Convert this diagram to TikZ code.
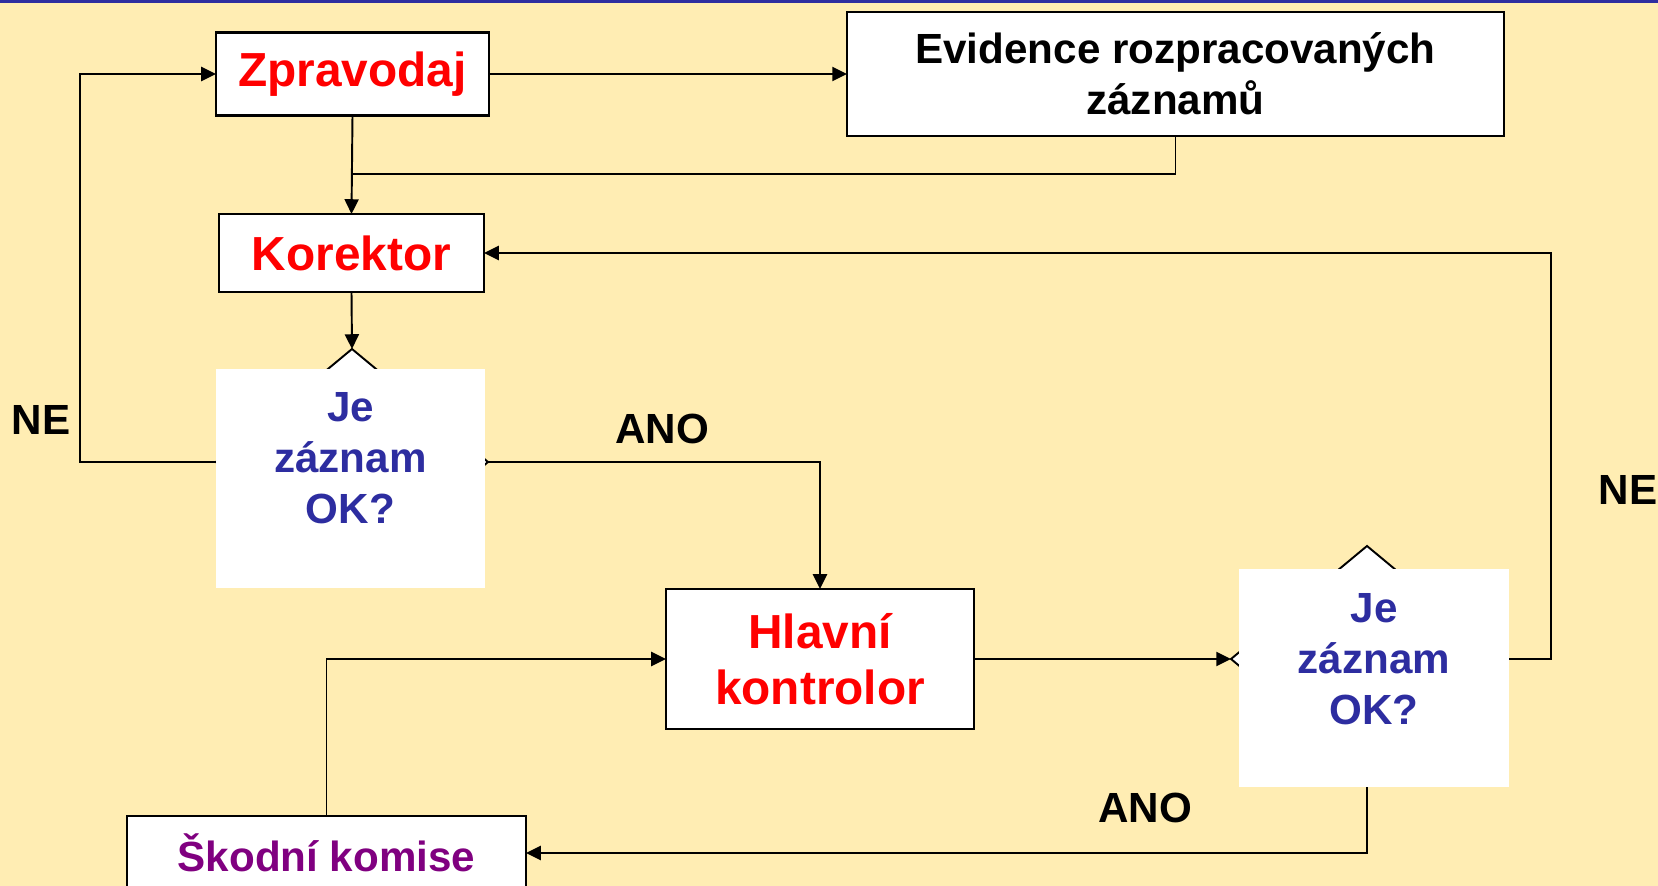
\documentclass[tikz,border=0pt]{standalone}
\usepackage{fontspec}
\setmainfont{Liberation Sans}
\usepackage{tikz}
\usetikzlibrary{arrows.meta}
\usetikzlibrary{shapes.geometric}
\definecolor{bgyellow}{HTML}{FFEDB3}
\definecolor{topblue}{HTML}{2E2EA0}
\definecolor{qblue}{HTML}{2D2DA0}
\definecolor{komise}{HTML}{800080}
\tikzstyle{line} = [draw, -{Triangle[length=4.2pt,width=4pt]}, line width=0.55pt]
\tikzstyle{block} = [draw, fill=white, line width=0.6pt, inner sep=0pt, outer sep=0pt, align=center, font=\bfseries\fontsize{13.6}{16}\selectfont]
\tikzstyle{decision} = [diamond, draw, fill=white, line width=0.55pt, minimum width=27.2mm, minimum height=22.6mm, inner sep=0pt, outer sep=0pt]
\tikzstyle{decbox} = [fill=white, inner sep=0pt, outer sep=0pt]
\tikzstyle{dectext} = [align=center, text=qblue, font=\bfseries\fontsize{12}{14.5}\selectfont]
\tikzstyle{answer} = [font=\bfseries\fontsize{12}{14.5}\selectfont]

\begin{document}
\begin{tikzpicture}[x=0.1mm, y=-0.1mm]
	\useasboundingbox (0,0) rectangle (1658,886);
	\fill[bgyellow] (0,0) rectangle (1658,886);
	\fill[topblue] (0,0) rectangle (1658,3);
	
	% ------------------- Boxes ------------------- %
	\node[block, text=red, minimum width=27.3mm, minimum height=8.3mm] (zpr) at (352.5,74) {Zpravodaj};
	\node[block, minimum width=65.7mm, minimum height=12.4mm, font=\bfseries\fontsize{12}{14.5}\selectfont] (evid) at (1175.5,74) {Evidence rozpracovaných\\záznamů};
	\node[block, text=red, minimum width=26.5mm, minimum height=7.8mm] (kor) at (351.5,253) {Korektor};
	\node[block, text=red, minimum width=30.8mm, minimum height=14mm] (hk) at (820,659) {Hlavní\\kontrolor};
	\node[block, text=komise, minimum width=39.9mm, minimum height=7.4mm, font=\bfseries\fontsize{12}{14.5}\selectfont] (sk) at (326.5,853) {Škodní komise};
	
	% ------------------- Decisions ------------------- %
	\node[decision] (q1) at (352,462) {};
	\node[decbox, minimum width=26.9mm, minimum height=21.9mm] (q1box) at (350.5,478.5) {};
	\node[dectext] (q1txt) at (350.5,458) {Je\\záznam\\OK?};
	
	\node[decision] (q2) at (1367,659) {};
	\node[decbox, minimum width=27mm, minimum height=21.8mm] (q2box) at (1374,678) {};
	\node[dectext] (q2txt) at (1374,659) {Je\\záznam\\OK?};
	
	% ------------------- Connectors ------------------- %
	\coordinate (join) at (352,174);
	\draw[line] (zpr.east) -- (evid.west);
	\draw[line] (zpr.south) -- (kor.north);
	\draw[line width=0.55pt] (evid.south) |- (join);
	\draw[line] (kor.south) -- (q1.north);
	\draw[line width=0.55pt] (q1.west) -- (q1box.west |- q1.west);
	\draw[line] (q1box.west |- q1.west) -- ++(-136,0) |- (zpr.west);
	\draw[line] (q1.east) -| (hk.north);
	\draw[line] (hk.east) -- (q2.west);
	\draw[line] (q2box.east |- q2.east) -- ++(42,0) |- (kor.east);
	\draw[line] (q2box.south -| q2.south) |- (sk.east);
	\draw[line] (sk.north) |- (hk.west);
	
	% ------------------- Answers ------------------- %
	\node[answer] (ne1) at (41,420) {NE};
	\node[answer] (ano1) at (662,429) {ANO};
	\node[answer] (ne2) at (1628,490) {NE};
	\node[answer] (ano2) at (1145,808) {ANO};
\end{tikzpicture}
\end{document}
